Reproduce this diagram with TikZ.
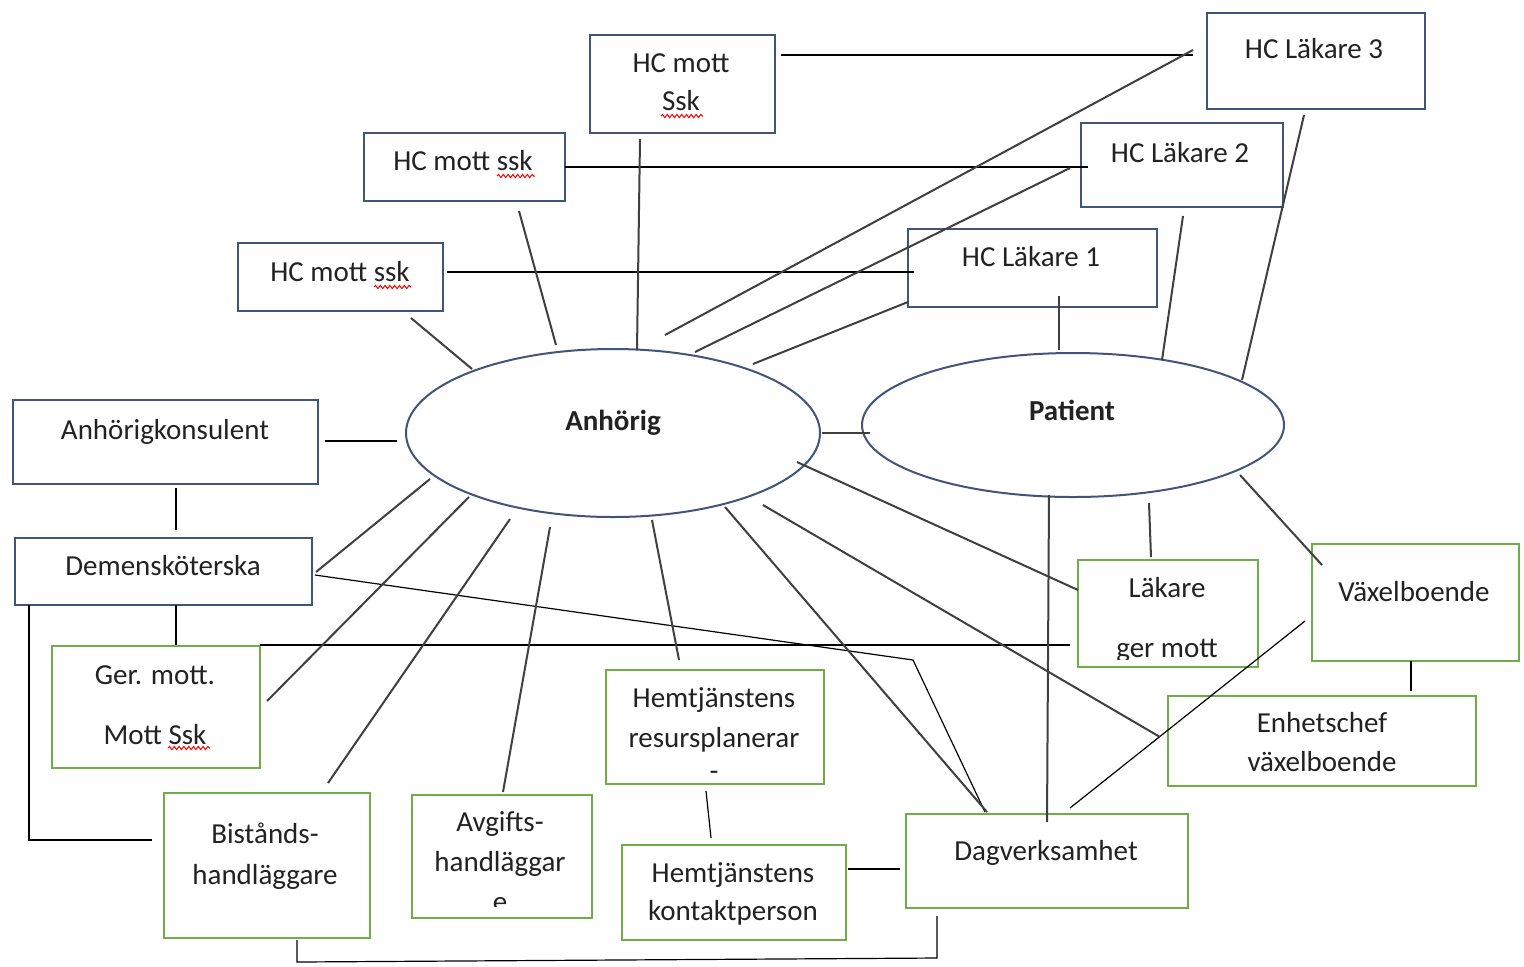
\documentclass[tikz,border=0pt]{standalone}
\usepackage{fontspec}
\setmainfont{Carlito}
\usetikzlibrary{shapes.geometric,decorations.pathmorphing}
\definecolor{boxblue}{RGB}{65,85,122}
\definecolor{boxgreen}{RGB}{112,173,71}
\definecolor{txtc}{RGB}{34,34,34}
\definecolor{linegrey}{RGB}{64,64,64}
\newcommand\nrel[3]{([shift={(#2,#3)}]#1.center)}
\tikzset{
  bbox/.style={draw=boxblue, line width=1pt, inner sep=0pt, fill=none},
  gbox/.style={draw=boxgreen, line width=1pt, inner sep=0pt},
  ell/.style={ellipse, draw=boxblue, line width=1pt, inner sep=0pt},
  txt/.style={font=\fontsize{14.5}{19.5}\selectfont, text=txtc, inner sep=0pt, anchor=base},
  btxt/.style={txt, font=\fontsize{14.5}{19.5}\selectfont\bfseries},
  thinl/.style={line width=0.6pt, black},
  thickl/.style={line width=1pt, linegrey},
  squig/.style={draw=red, line width=0.5pt, decorate, decoration={snake, segment length=2.4pt, amplitude=0.8pt}},
}
\begin{document}
\begin{tikzpicture}[x=0.5pt, y=-0.5pt]
\useasboundingbox (0,0) rectangle (1524,966);
\fill[white] (0,0) rectangle (1524,966);

% ---- blue boxes
\node[bbox, minimum width=92.5pt, minimum height=49pt] (hcs1) at (682.5,84) {};
\node[bbox, minimum width=100.5pt, minimum height=34pt] (hcs2) at (464.5,167) {};
\node[bbox, minimum width=102.5pt, minimum height=34pt] (hcs3) at (340.5,277) {};
\node[bbox, minimum width=109pt, minimum height=48pt] (hcl3) at (1316,61) {};
\node[bbox, minimum width=101pt, minimum height=42pt] (hcl2) at (1182,165) {};
\node[bbox, minimum width=124.5pt, minimum height=39pt] (hcl1) at (1032.5,268) {};
\node[bbox, minimum width=152.5pt, minimum height=42pt] (ank) at (165.5,442) {};
\node[bbox, minimum width=148.5pt, minimum height=33.5pt] (dem) at (163.5,571.5) {};

% ---- green boxes
\node[gbox, minimum width=104pt, minimum height=61pt] (ger) at (156,707) {};
\node[gbox, minimum width=103pt, minimum height=72.5pt] (bist) at (267,865.5) {};
\node[gbox, minimum width=90pt, minimum height=61.5pt] (avg) at (502,856.5) {};
\node[gbox, minimum width=109pt, minimum height=57pt] (hres) at (715,727) {};
\node[gbox, minimum width=112pt, minimum height=47.5pt] (hkon) at (734,892.5) {};
\node[gbox, minimum width=141pt, minimum height=47pt] (dag) at (1047,861) {};
\node[gbox, minimum width=90pt, minimum height=53.5pt] (lak) at (1168,613.5) {};
\node[gbox, minimum width=103.5pt, minimum height=58.5pt] (vax) at (1415.5,602.5) {};
\node[gbox, minimum width=154pt, minimum height=45pt] (enh) at (1322,741) {};

% ---- ellipses
\node[ell, minimum width=207pt, minimum height=84pt] (anh) at (613,433) {};
\node[ell, minimum width=211pt, minimum height=72pt] (pat) at (1073,425) {};

% ---- texts
\node[txt] (t-hcs1a) at (681,72) {HC mott};
\node[txt] (t-hcs1b) at (681,110) {Ssk};
\node[txt] (t-hcs2) at (463,170) {HC mott ssk};
\node[txt] (t-hcs3) at (340,281) {HC mott ssk};
\node[txt] (t-hcl3) at (1314,58) {HC Läkare 3};
\node[txt] (t-hcl2) at (1180,162) {HC Läkare 2};
\node[txt] (t-hcl1) at (1031,266) {HC Läkare 1};
\node[txt] (t-ank) at (165,439) {Anhörigkonsulent};
\node[txt] (t-dem) at (163,575) {Demensköterska};
\node[txt] (t-gera) at (155,684) {Ger. mott.};
\node[txt] (t-gerb) at (155,744) {Mott Ssk};
\node[txt] (t-bista) at (265,843) {Bistånds-};
\node[txt] (t-bistb) at (265,884) {handläggare};
\node[txt] (t-avga) at (500,831) {Avgifts-};
\node[txt] (t-avgb) at (500,871) {handläggar};
\begin{scope}
  \clip (413,796) rectangle (591,906);
  \node[txt] (t-avgc) at (500,911) {e};
\end{scope}
\node[txt] (t-hresa) at (714,707) {Hemtjänstens};
\node[txt] (t-hresb) at (714,747) {resursplanerar};
\node[txt] (t-hresc) at (714,780) {-};
\node[txt] (t-hkona) at (733,882) {Hemtjänstens};
\node[txt] (t-hkonb) at (733,920) {kontaktperson};
\node[txt] (t-dag) at (1046,860) {Dagverksamhet};
\node[txt] (t-laka) at (1167,597) {Läkare};
\begin{scope}
  \clip (1079,561) rectangle (1257,659);
  \node[txt] (t-lakb) at (1167,657) {ger mott};
\end{scope}
\node[txt] (t-vax) at (1414,601) {Växelboende};
\node[txt] (t-enha) at (1322,732) {Enhetschef};
\node[txt] (t-enhb) at (1322,771) {växelboende};
\node[btxt] (t-anh) at (613,430) {Anhörig};
\node[btxt] (t-pat) at (1072,420) {Patient};

% ---- spell-check marks
\draw[squig] (661,116) -- (703,116);
\draw[squig] (497,176) -- (535,176);
\draw[squig] (374,287) -- (411,287);
\draw[squig] (168,748) -- (210,748);

% ---- thin connectors
\coordinate (bend) at (913,660);
\coordinate (bk1) at (297,962);
\coordinate (bk2) at (937,958);
\draw[thinl] \nrel{hcs1}{98.5}{-29} -- \nrel{hcl3}{-123}{-6};
\draw[thinl] \nrel{hcs2}{100.5}{0} -- \nrel{hcl2}{-94}{2};
\draw[thinl] \nrel{hcs3}{106.5}{-5} -- \nrel{hcl1}{-118.5}{4};
\draw[thinl] \nrel{dem}{151.5}{3.5} -- (bend) -- \nrel{dag}{-62}{-49};
\draw[thinl] \nrel{dem}{12.5}{33.5} -- \nrel{ger}{20}{-62};
\draw[thinl] \nrel{dem}{-134.5}{33.5} |- \nrel{bist}{-115}{-25.5};
\draw[thinl] \nrel{ger}{104}{-62} -- \nrel{lak}{-98}{31.5};
\draw[thinl] \nrel{ank}{159.5}{-1} -- \nrel{anh}{-216}{8};
\draw[thinl] \nrel{ank}{10.5}{46} -- \nrel{dem}{12.5}{-41.5};
\draw[thinl] \nrel{bist}{30}{74.5} -- (bk1) -- (bk2) -- \nrel{dag}{-110}{55};
\draw[thinl] \nrel{hres}{-9}{64} -- \nrel{hkon}{-23}{-54.5};
\draw[thinl] \nrel{hkon}{114}{-23.5} -- \nrel{dag}{-147}{8};
\draw[thinl] \nrel{vax}{-110.5}{18.5} -- \nrel{dag}{23}{-53};
\draw[thinl] \nrel{vax}{-4.5}{58.5} -- \nrel{enh}{89}{-50};

% ---- thick connectors
\draw[thickl] \nrel{hcl3}{-123}{-11} -- \nrel{anh}{52}{-98};
\draw[thickl] \nrel{hcl2}{-112}{3} -- \nrel{anh}{82}{-81};
\draw[thickl] \nrel{hcl1}{-124.5}{34} -- \nrel{anh}{140}{-69};
\draw[thickl] \nrel{hcl1}{26.5}{28} -- \nrel{pat}{-14}{-75};
\draw[thickl] \nrel{hcl2}{1}{51} -- \nrel{pat}{89}{-65};
\draw[thickl] \nrel{hcl3}{-12}{54} -- \nrel{pat}{169}{-45};
\draw[thickl] \nrel{hcs1}{-42.5}{55} -- \nrel{anh}{24}{-83};
\draw[thickl] \nrel{hcs2}{54.5}{44} -- \nrel{anh}{-57}{-88};
\draw[thickl] \nrel{hcs3}{70.5}{41} -- \nrel{anh}{-141}{-64};
\draw[thickl] \nrel{anh}{209}{0} -- \nrel{pat}{-203}{8};
\draw[thickl] \nrel{dem}{152.5}{0.5} -- \nrel{anh}{-183}{46};
\draw[thickl] \nrel{ger}{111}{-6} -- \nrel{anh}{-144}{64};
\draw[thickl] \nrel{bist}{61}{-82.5} -- \nrel{anh}{-103}{86};
\draw[thickl] \nrel{avg}{1}{-64.5} -- \nrel{anh}{-63}{94};
\draw[thickl] \nrel{hres}{-36}{-67} -- \nrel{anh}{39}{87};
\draw[thickl] \nrel{anh}{112}{74} -- \nrel{dag}{-60}{-49};
\draw[thickl] \nrel{anh}{150}{72} -- \nrel{enh}{-162}{-4};
\draw[thickl] \nrel{anh}{184}{29} -- \nrel{lak}{-90}{-23.5};
\draw[thickl] \nrel{pat}{-24}{70} -- \nrel{dag}{0}{-39};
\draw[thickl] \nrel{pat}{76}{78} -- \nrel{lak}{-17}{-56.5};
\draw[thickl] \nrel{pat}{167}{50} -- \nrel{vax}{-93.5}{-37.5};
\end{tikzpicture}
\end{document}
